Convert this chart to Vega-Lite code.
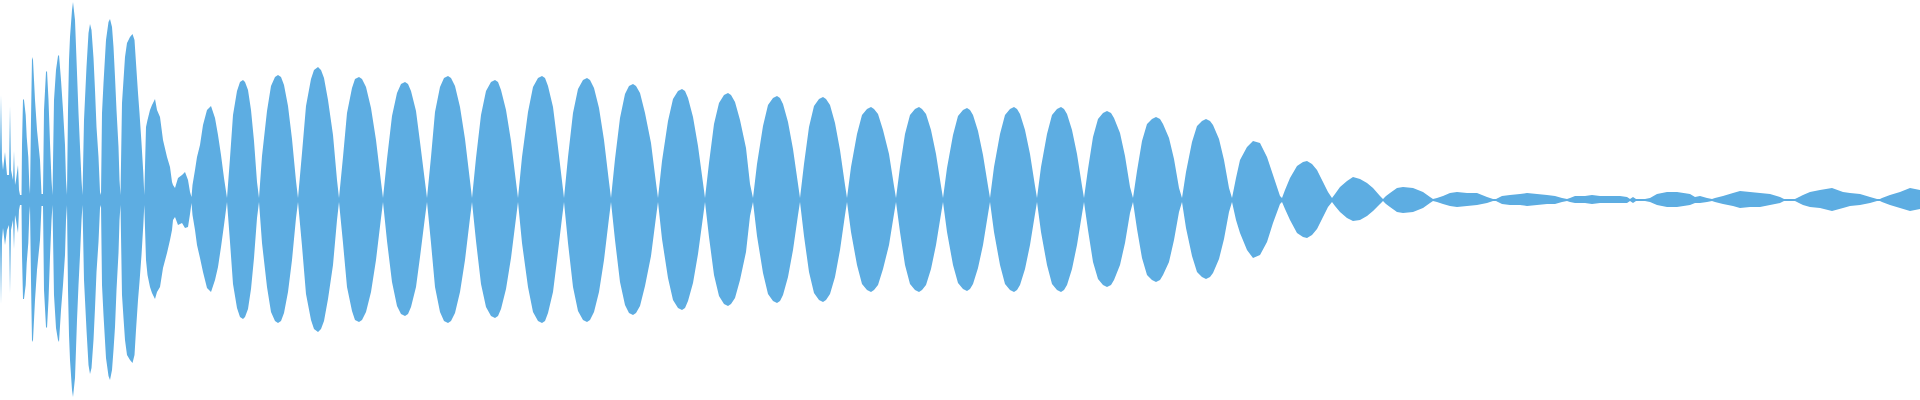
{
  "$schema": "https://vega.github.io/schema/vega-lite/v6.json",
  "width": 1920,
  "height": 400,
  "autosize": {"type": "fit", "contains": "padding"},
  "padding": 0,
  "background": "white",
  "config": {"view": {"stroke": null}},
  "data": {"values": [
    {"t":0,"hi":45,"lo":-40},{"t":1,"hi":105,"lo":-104},{"t":2,"hi":40,"lo":-40},{"t":3,"hi":30,"lo":-28},{"t":5,"hi":48,"lo":-45},{"t":7,"hi":25,"lo":-30},{"t":9,"hi":25,"lo":-25},{"t":10,"hi":94,"lo":-93},{"t":11,"hi":30,"lo":-30},{"t":13,"hi":20,"lo":-20},{"t":14,"hi":49,"lo":-49},{"t":15,"hi":15,"lo":-15},{"t":16,"hi":20,"lo":-20},{"t":18,"hi":35,"lo":-33},{"t":19,"hi":10,"lo":-10},{"t":20,"hi":5,"lo":-5},{"t":21.5,"hi":5,"lo":-5},
    {"t":22,"hi":55,"lo":-55},{"t":23,"hi":101,"lo":-99},{"t":24,"hi":100,"lo":-99},{"t":25.7,"hi":85,"lo":-85},{"t":26.7,"hi":63,"lo":-63},{"t":28.3,"hi":43,"lo":-43},{"t":29.3,"hi":15,"lo":-15},{"t":30,"hi":6,"lo":-6},
    {"t":31,"hi":80,"lo":-80},{"t":32,"hi":143,"lo":-142},{"t":33,"hi":140,"lo":-140},{"t":35,"hi":100,"lo":-100},{"t":37,"hi":70,"lo":-70},{"t":40,"hi":40,"lo":-40},{"t":41.5,"hi":6,"lo":-6},{"t":43,"hi":6,"lo":-6},
    {"t":44,"hi":90,"lo":-90},{"t":46,"hi":128,"lo":-127},{"t":47,"hi":129,"lo":-128},{"t":48.5,"hi":100,"lo":-100},{"t":50,"hi":57,"lo":-57},{"t":51.5,"hi":20,"lo":-20},{"t":52.5,"hi":5,"lo":-5},
    {"t":54,"hi":100,"lo":-95},{"t":56,"hi":130,"lo":-128},{"t":58,"hi":144,"lo":-140},{"t":59,"hi":145,"lo":-142},{"t":61,"hi":120,"lo":-110},{"t":63,"hi":90,"lo":-85},{"t":65,"hi":55,"lo":-55},{"t":66,"hi":20,"lo":-20},{"t":67,"hi":5,"lo":-5},
    {"t":68,"hi":90,"lo":-90},{"t":69,"hi":140,"lo":-135},{"t":70,"hi":163,"lo":-160},{"t":72,"hi":190,"lo":-190},{"t":73,"hi":198,"lo":-197},{"t":75,"hi":180,"lo":-178},{"t":77,"hi":127,"lo":-120},{"t":78.5,"hi":87,"lo":-85},{"t":80,"hi":53,"lo":-55},{"t":81.5,"hi":20,"lo":-20},{"t":82.5,"hi":5,"lo":-5},
    {"t":84,"hi":80,"lo":-80},{"t":86.5,"hi":133,"lo":-130},{"t":88.5,"hi":167,"lo":-165},{"t":90,"hi":176,"lo":-174},{"t":91.5,"hi":170,"lo":-168},{"t":93.5,"hi":142,"lo":-140},{"t":95,"hi":110,"lo":-108},{"t":96.5,"hi":73,"lo":-72},{"t":98.5,"hi":43,"lo":-42},{"t":100,"hi":8,"lo":-8},{"t":101,"hi":5,"lo":-5},
    {"t":102,"hi":87,"lo":-85},{"t":103.5,"hi":117,"lo":-115},{"t":106,"hi":160,"lo":-158},{"t":108.5,"hi":178,"lo":-176},{"t":110,"hi":181,"lo":-180},{"t":112,"hi":173,"lo":-170},{"t":113.5,"hi":153,"lo":-150},{"t":115,"hi":123,"lo":-127},{"t":116.5,"hi":90,"lo":-90},{"t":118.5,"hi":53,"lo":-53},{"t":119.5,"hi":20,"lo":-20},{"t":120.5,"hi":5,"lo":-5},
    {"t":122,"hi":97,"lo":-95},{"t":123.5,"hi":120,"lo":-118},{"t":125,"hi":143,"lo":-140},{"t":127,"hi":157,"lo":-155},{"t":130,"hi":163,"lo":-160},{"t":132.5,"hi":166,"lo":-163},{"t":134.5,"hi":160,"lo":-155},{"t":136,"hi":137,"lo":-130},{"t":138,"hi":107,"lo":-100},{"t":139.5,"hi":87,"lo":-82},{"t":141.5,"hi":57,"lo":-55},{"t":143.3,"hi":27,"lo":-25},{"t":144.3,"hi":5,"lo":-5},
    {"t":146,"hi":73,"lo":-60},{"t":147.5,"hi":80,"lo":-75},{"t":150,"hi":90,"lo":-87},{"t":152,"hi":95,"lo":-93},{"t":155,"hi":101,"lo":-99},{"t":157,"hi":90,"lo":-92},{"t":160,"hi":83,"lo":-87},{"t":163,"hi":60,"lo":-68},{"t":167,"hi":43,"lo":-53},{"t":170,"hi":33,"lo":-40},{"t":172,"hi":18,"lo":-30},
    {"t":173,"hi":15,"lo":-20},{"t":175,"hi":12,"lo":-17},{"t":178,"hi":22,"lo":-25},{"t":182,"hi":25,"lo":-23},{"t":185,"hi":28,"lo":-28},{"t":188,"hi":20,"lo":-27},{"t":190,"hi":8,"lo":-14},{"t":191.5,"hi":3,"lo":-3},
    {"t":192.5,"hi":15,"lo":-15},{"t":195,"hi":30,"lo":-30},{"t":197,"hi":43,"lo":-45},{"t":200,"hi":55,"lo":-58},{"t":203,"hi":75,"lo":-72},{"t":207,"hi":90,"lo":-88},{"t":211,"hi":94,"lo":-92},{"t":215,"hi":82,"lo":-80},{"t":218,"hi":65,"lo":-67},{"t":221,"hi":45,"lo":-47},{"t":224,"hi":22,"lo":-25},{"t":227,"hi":2,"lo":-2},
    {"t":230,"hi":42,"lo":-42},{"t":233,"hi":85,"lo":-84},{"t":237,"hi":109,"lo":-108},{"t":240,"hi":118,"lo":-117},{"t":243,"hi":120,"lo":-119},{"t":245,"hi":118,"lo":-117},{"t":248,"hi":110,"lo":-109},{"t":251,"hi":90,"lo":-89},{"t":254,"hi":59,"lo":-58},{"t":257,"hi":18,"lo":-18},{"t":259,"hi":2,"lo":-2},
    {"t":262,"hi":44,"lo":-43},{"t":267,"hi":89,"lo":-87},{"t":271,"hi":114,"lo":-112},{"t":275,"hi":123,"lo":-121},{"t":278,"hi":125,"lo":-123},{"t":281,"hi":123,"lo":-121},{"t":284,"hi":115,"lo":-113},{"t":288,"hi":94,"lo":-92},{"t":292,"hi":61,"lo":-60},{"t":296,"hi":19,"lo":-18},{"t":298,"hi":2,"lo":-2},
    {"t":302,"hi":47,"lo":-46},{"t":306,"hi":94,"lo":-94},{"t":311,"hi":121,"lo":-120},{"t":314,"hi":130,"lo":-129},{"t":318,"hi":133,"lo":-132},{"t":321,"hi":130,"lo":-129},{"t":324,"hi":122,"lo":-121},{"t":328,"hi":100,"lo":-99},{"t":333,"hi":65,"lo":-65},{"t":337,"hi":20,"lo":-20},{"t":339,"hi":2,"lo":-2},
    {"t":343,"hi":43,"lo":-43},{"t":347,"hi":87,"lo":-87},{"t":352,"hi":112,"lo":-111},{"t":355,"hi":121,"lo":-120},{"t":359,"hi":123,"lo":-122},{"t":362,"hi":121,"lo":-120},{"t":366,"hi":113,"lo":-112},{"t":371,"hi":92,"lo":-92},{"t":376,"hi":60,"lo":-60},{"t":381,"hi":18,"lo":-18},{"t":383,"hi":2,"lo":-2},
    {"t":387,"hi":41,"lo":-41},{"t":392,"hi":84,"lo":-82},{"t":397,"hi":107,"lo":-106},{"t":401,"hi":116,"lo":-114},{"t":405,"hi":118,"lo":-116},{"t":408,"hi":116,"lo":-114},{"t":411,"hi":109,"lo":-107},{"t":416,"hi":89,"lo":-87},{"t":420,"hi":58,"lo":-57},{"t":425,"hi":18,"lo":-17},{"t":427,"hi":2,"lo":-2},
    {"t":431,"hi":43,"lo":-43},{"t":435,"hi":88,"lo":-87},{"t":440,"hi":113,"lo":-112},{"t":444,"hi":122,"lo":-121},{"t":448,"hi":124,"lo":-123},{"t":451,"hi":122,"lo":-121},{"t":455,"hi":114,"lo":-113},{"t":460,"hi":93,"lo":-92},{"t":465,"hi":61,"lo":-60},{"t":470,"hi":19,"lo":-18},{"t":472,"hi":2,"lo":-2},
    {"t":476,"hi":42,"lo":-41},{"t":481,"hi":85,"lo":-84},{"t":486,"hi":109,"lo":-107},{"t":491,"hi":118,"lo":-116},{"t":495,"hi":120,"lo":-118},{"t":498,"hi":118,"lo":-116},{"t":501,"hi":110,"lo":-109},{"t":506,"hi":90,"lo":-89},{"t":511,"hi":59,"lo":-58},{"t":516,"hi":18,"lo":-18},{"t":518,"hi":2,"lo":-2},
    {"t":522,"hi":43,"lo":-43},{"t":528,"hi":88,"lo":-87},{"t":533,"hi":113,"lo":-112},{"t":538,"hi":122,"lo":-121},{"t":542,"hi":124,"lo":-123},{"t":545,"hi":122,"lo":-121},{"t":548,"hi":114,"lo":-113},{"t":553,"hi":93,"lo":-92},{"t":557,"hi":61,"lo":-60},{"t":562,"hi":19,"lo":-18},{"t":564,"hi":2,"lo":-2},
    {"t":568,"hi":43,"lo":-43},{"t":573,"hi":87,"lo":-87},{"t":578,"hi":111,"lo":-111},{"t":583,"hi":120,"lo":-120},{"t":587,"hi":122,"lo":-122},{"t":590,"hi":120,"lo":-120},{"t":594,"hi":112,"lo":-112},{"t":599,"hi":92,"lo":-92},{"t":604,"hi":60,"lo":-60},{"t":609,"hi":18,"lo":-18},{"t":611,"hi":2,"lo":-2},
    {"t":615,"hi":41,"lo":-40},{"t":620,"hi":82,"lo":-82},{"t":625,"hi":106,"lo":-105},{"t":629,"hi":114,"lo":-113},{"t":633,"hi":116,"lo":-115},{"t":636,"hi":114,"lo":-113},{"t":640,"hi":107,"lo":-106},{"t":645,"hi":87,"lo":-86},{"t":651,"hi":57,"lo":-56},{"t":656,"hi":17,"lo":-17},{"t":658,"hi":2,"lo":-2},
    {"t":662,"hi":39,"lo":-39},{"t":668,"hi":79,"lo":-78},{"t":673,"hi":101,"lo":-100},{"t":678,"hi":109,"lo":-108},{"t":682,"hi":111,"lo":-110},{"t":685,"hi":109,"lo":-108},{"t":688,"hi":102,"lo":-101},{"t":693,"hi":83,"lo":-83},{"t":698,"hi":54,"lo":-54},{"t":703,"hi":17,"lo":-17},{"t":705,"hi":2,"lo":-2},
    {"t":709,"hi":37,"lo":-37},{"t":714,"hi":76,"lo":-75},{"t":719,"hi":97,"lo":-96},{"t":724,"hi":105,"lo":-104},{"t":728,"hi":107,"lo":-106},{"t":731,"hi":105,"lo":-104},{"t":735,"hi":98,"lo":-98},{"t":740,"hi":80,"lo":-80},{"t":746,"hi":52,"lo":-52},{"t":750,"hi":16,"lo":-16},{"t":753,"hi":2,"lo":-2},
    {"t":757,"hi":36,"lo":-36},{"t":763,"hi":74,"lo":-73},{"t":768,"hi":95,"lo":-94},{"t":773,"hi":102,"lo":-101},{"t":777,"hi":104,"lo":-103},{"t":780,"hi":102,"lo":-101},{"t":783,"hi":96,"lo":-95},{"t":788,"hi":78,"lo":-77},{"t":793,"hi":51,"lo":-50},{"t":798,"hi":16,"lo":-15},{"t":800,"hi":2,"lo":-2},
    {"t":804,"hi":36,"lo":-36},{"t":809,"hi":73,"lo":-72},{"t":814,"hi":94,"lo":-93},{"t":819,"hi":101,"lo":-100},{"t":823,"hi":103,"lo":-102},{"t":826,"hi":101,"lo":-100},{"t":830,"hi":95,"lo":-94},{"t":835,"hi":77,"lo":-77},{"t":840,"hi":50,"lo":-50},{"t":845,"hi":15,"lo":-15},{"t":847,"hi":2,"lo":-2},
    {"t":851,"hi":33,"lo":-32},{"t":857,"hi":66,"lo":-65},{"t":862,"hi":85,"lo":-84},{"t":867,"hi":91,"lo":-90},{"t":871,"hi":93,"lo":-92},{"t":874,"hi":91,"lo":-90},{"t":878,"hi":86,"lo":-85},{"t":883,"hi":70,"lo":-69},{"t":889,"hi":46,"lo":-45},{"t":894,"hi":14,"lo":-14},{"t":896,"hi":2,"lo":-2},
    {"t":900,"hi":33,"lo":-32},{"t":905,"hi":66,"lo":-65},{"t":910,"hi":85,"lo":-84},{"t":915,"hi":91,"lo":-90},{"t":919,"hi":93,"lo":-92},{"t":922,"hi":91,"lo":-90},{"t":926,"hi":86,"lo":-85},{"t":931,"hi":70,"lo":-69},{"t":936,"hi":46,"lo":-45},{"t":941,"hi":14,"lo":-14},{"t":943,"hi":2,"lo":-2},
    {"t":947,"hi":32,"lo":-32},{"t":953,"hi":65,"lo":-65},{"t":958,"hi":84,"lo":-83},{"t":963,"hi":90,"lo":-89},{"t":967,"hi":92,"lo":-91},{"t":970,"hi":90,"lo":-89},{"t":973,"hi":85,"lo":-84},{"t":978,"hi":69,"lo":-68},{"t":983,"hi":45,"lo":-45},{"t":988,"hi":14,"lo":-14},{"t":990,"hi":2,"lo":-2},
    {"t":994,"hi":33,"lo":-32},{"t":1000,"hi":66,"lo":-65},{"t":1005,"hi":85,"lo":-84},{"t":1010,"hi":91,"lo":-90},{"t":1014,"hi":93,"lo":-92},{"t":1017,"hi":91,"lo":-90},{"t":1020,"hi":86,"lo":-85},{"t":1025,"hi":70,"lo":-69},{"t":1030,"hi":46,"lo":-45},{"t":1035,"hi":14,"lo":-14},{"t":1037,"hi":2,"lo":-2},
    {"t":1041,"hi":33,"lo":-32},{"t":1047,"hi":66,"lo":-65},{"t":1052,"hi":85,"lo":-84},{"t":1057,"hi":91,"lo":-90},{"t":1061,"hi":93,"lo":-92},{"t":1064,"hi":91,"lo":-90},{"t":1067,"hi":86,"lo":-85},{"t":1072,"hi":70,"lo":-69},{"t":1077,"hi":46,"lo":-45},{"t":1082,"hi":14,"lo":-14},{"t":1084,"hi":2,"lo":-2},
    {"t":1088,"hi":31,"lo":-30},{"t":1093,"hi":63,"lo":-62},{"t":1098,"hi":81,"lo":-79},{"t":1103,"hi":87,"lo":-85},{"t":1107,"hi":89,"lo":-87},{"t":1111,"hi":87,"lo":-85},{"t":1114,"hi":82,"lo":-80},{"t":1120,"hi":67,"lo":-65},{"t":1125,"hi":44,"lo":-43},{"t":1130,"hi":13,"lo":-13},{"t":1133,"hi":2,"lo":-2},
    {"t":1137,"hi":29,"lo":-29},{"t":1142,"hi":59,"lo":-58},{"t":1147,"hi":76,"lo":-75},{"t":1152,"hi":81,"lo":-80},{"t":1156,"hi":83,"lo":-82},{"t":1160,"hi":81,"lo":-80},{"t":1163,"hi":76,"lo":-75},{"t":1169,"hi":62,"lo":-62},{"t":1174,"hi":41,"lo":-40},{"t":1179,"hi":12,"lo":-12},{"t":1182,"hi":2,"lo":-2},
    {"t":1186,"hi":28,"lo":-28},{"t":1192,"hi":58,"lo":-56},{"t":1197,"hi":74,"lo":-72},{"t":1202,"hi":79,"lo":-77},{"t":1206,"hi":81,"lo":-79},{"t":1210,"hi":79,"lo":-77},{"t":1213,"hi":75,"lo":-73},{"t":1219,"hi":61,"lo":-59},{"t":1224,"hi":40,"lo":-39},{"t":1229,"hi":12,"lo":-12},{"t":1232,"hi":2,"lo":-2},
    {"t":1236,"hi":22,"lo":-20},{"t":1240,"hi":40,"lo":-33},{"t":1247,"hi":53,"lo":-50},{"t":1253,"hi":59,"lo":-58},{"t":1260,"hi":57,"lo":-55},{"t":1267,"hi":43,"lo":-42},{"t":1273,"hi":25,"lo":-23},{"t":1280,"hi":4,"lo":-4},{"t":1282,"hi":2,"lo":-2},
    {"t":1285,"hi":10,"lo":-9},{"t":1290,"hi":22,"lo":-20},{"t":1297,"hi":34,"lo":-33},{"t":1303,"hi":38,"lo":-37},{"t":1307,"hi":39,"lo":-38},{"t":1312,"hi":36,"lo":-35},{"t":1317,"hi":30,"lo":-29},{"t":1323,"hi":18,"lo":-17},{"t":1328,"hi":8,"lo":-7},{"t":1332,"hi":2,"lo":-2},
    {"t":1335,"hi":6,"lo":-6},{"t":1340,"hi":13,"lo":-12},{"t":1347,"hi":19,"lo":-18},{"t":1353,"hi":23,"lo":-21},{"t":1360,"hi":21,"lo":-20},{"t":1367,"hi":17,"lo":-16},{"t":1373,"hi":12,"lo":-11},{"t":1380,"hi":4,"lo":-4},{"t":1383,"hi":1,"lo":-1},
    {"t":1386,"hi":4,"lo":-4},{"t":1390,"hi":7,"lo":-7},{"t":1397,"hi":12,"lo":-12},{"t":1403,"hi":13,"lo":-13},{"t":1413,"hi":12,"lo":-12},{"t":1423,"hi":8,"lo":-8},{"t":1430,"hi":3,"lo":-3},{"t":1433,"hi":1,"lo":-1},
    {"t":1437,"hi":2,"lo":-2},{"t":1443,"hi":4,"lo":-4},{"t":1450,"hi":7,"lo":-6},{"t":1457,"hi":8,"lo":-7},{"t":1467,"hi":7,"lo":-6},{"t":1477,"hi":7,"lo":-5},{"t":1487,"hi":3,"lo":-3},{"t":1493,"hi":1,"lo":-1},{"t":1496,"hi":1,"lo":-1},
    {"t":1502,"hi":4,"lo":-4},{"t":1510,"hi":5,"lo":-5},{"t":1520,"hi":6,"lo":-5},{"t":1527,"hi":7,"lo":-6},{"t":1537,"hi":6,"lo":-5},{"t":1547,"hi":5,"lo":-4},{"t":1555,"hi":4,"lo":-4},{"t":1562,"hi":2,"lo":-2},{"t":1567,"hi":1,"lo":-1},
    {"t":1570,"hi":2,"lo":-2},{"t":1575,"hi":4,"lo":-3},{"t":1585,"hi":4,"lo":-3},{"t":1592,"hi":5,"lo":-4},{"t":1600,"hi":4,"lo":-3},{"t":1610,"hi":4,"lo":-3},{"t":1620,"hi":4,"lo":-3},{"t":1627,"hi":3,"lo":-3},{"t":1630,"hi":1,"lo":-1},{"t":1633,"hi":3,"lo":-3},{"t":1636,"hi":1,"lo":-1},{"t":1645,"hi":1,"lo":-1},
    {"t":1650,"hi":2,"lo":-2},{"t":1657,"hi":6,"lo":-5},{"t":1667,"hi":8,"lo":-7},{"t":1677,"hi":8,"lo":-7},{"t":1690,"hi":6,"lo":-5},{"t":1695,"hi":3,"lo":-3},{"t":1700,"hi":4,"lo":-3},{"t":1707,"hi":2,"lo":-2},{"t":1712,"hi":1,"lo":-1},
    {"t":1715,"hi":2,"lo":-2},{"t":1723,"hi":4,"lo":-4},{"t":1733,"hi":7,"lo":-6},{"t":1740,"hi":9,"lo":-8},{"t":1750,"hi":8,"lo":-7},{"t":1760,"hi":7,"lo":-7},{"t":1770,"hi":6,"lo":-5},{"t":1780,"hi":3,"lo":-3},{"t":1784,"hi":1,"lo":-1},{"t":1790,"hi":1,"lo":-1},
    {"t":1795,"hi":1,"lo":-1},{"t":1797,"hi":2,"lo":-2},{"t":1803,"hi":5,"lo":-5},{"t":1810,"hi":8,"lo":-7},{"t":1820,"hi":10,"lo":-8},{"t":1832,"hi":12,"lo":-11},{"t":1843,"hi":8,"lo":-8},{"t":1850,"hi":7,"lo":-6},{"t":1860,"hi":6,"lo":-5},{"t":1870,"hi":3,"lo":-3},{"t":1877,"hi":1,"lo":-1},
    {"t":1880,"hi":1,"lo":-1},{"t":1882,"hi":2,"lo":-2},{"t":1890,"hi":5,"lo":-5},{"t":1900,"hi":8,"lo":-8},{"t":1910,"hi":12,"lo":-11},{"t":1920,"hi":10,"lo":-9}
  ]},
  "mark": {"type": "area", "color": "#5DADE2", "interpolate": "linear", "opacity": 1},
  "encoding": {
    "x": {"field": "t", "type": "quantitative", "scale": {"domain": [0, 1920], "nice": false, "zero": false}, "axis": null},
    "y": {"field": "hi", "type": "quantitative", "scale": {"domain": [-200, 200], "nice": false}, "axis": null},
    "y2": {"field": "lo"}
  }
}
